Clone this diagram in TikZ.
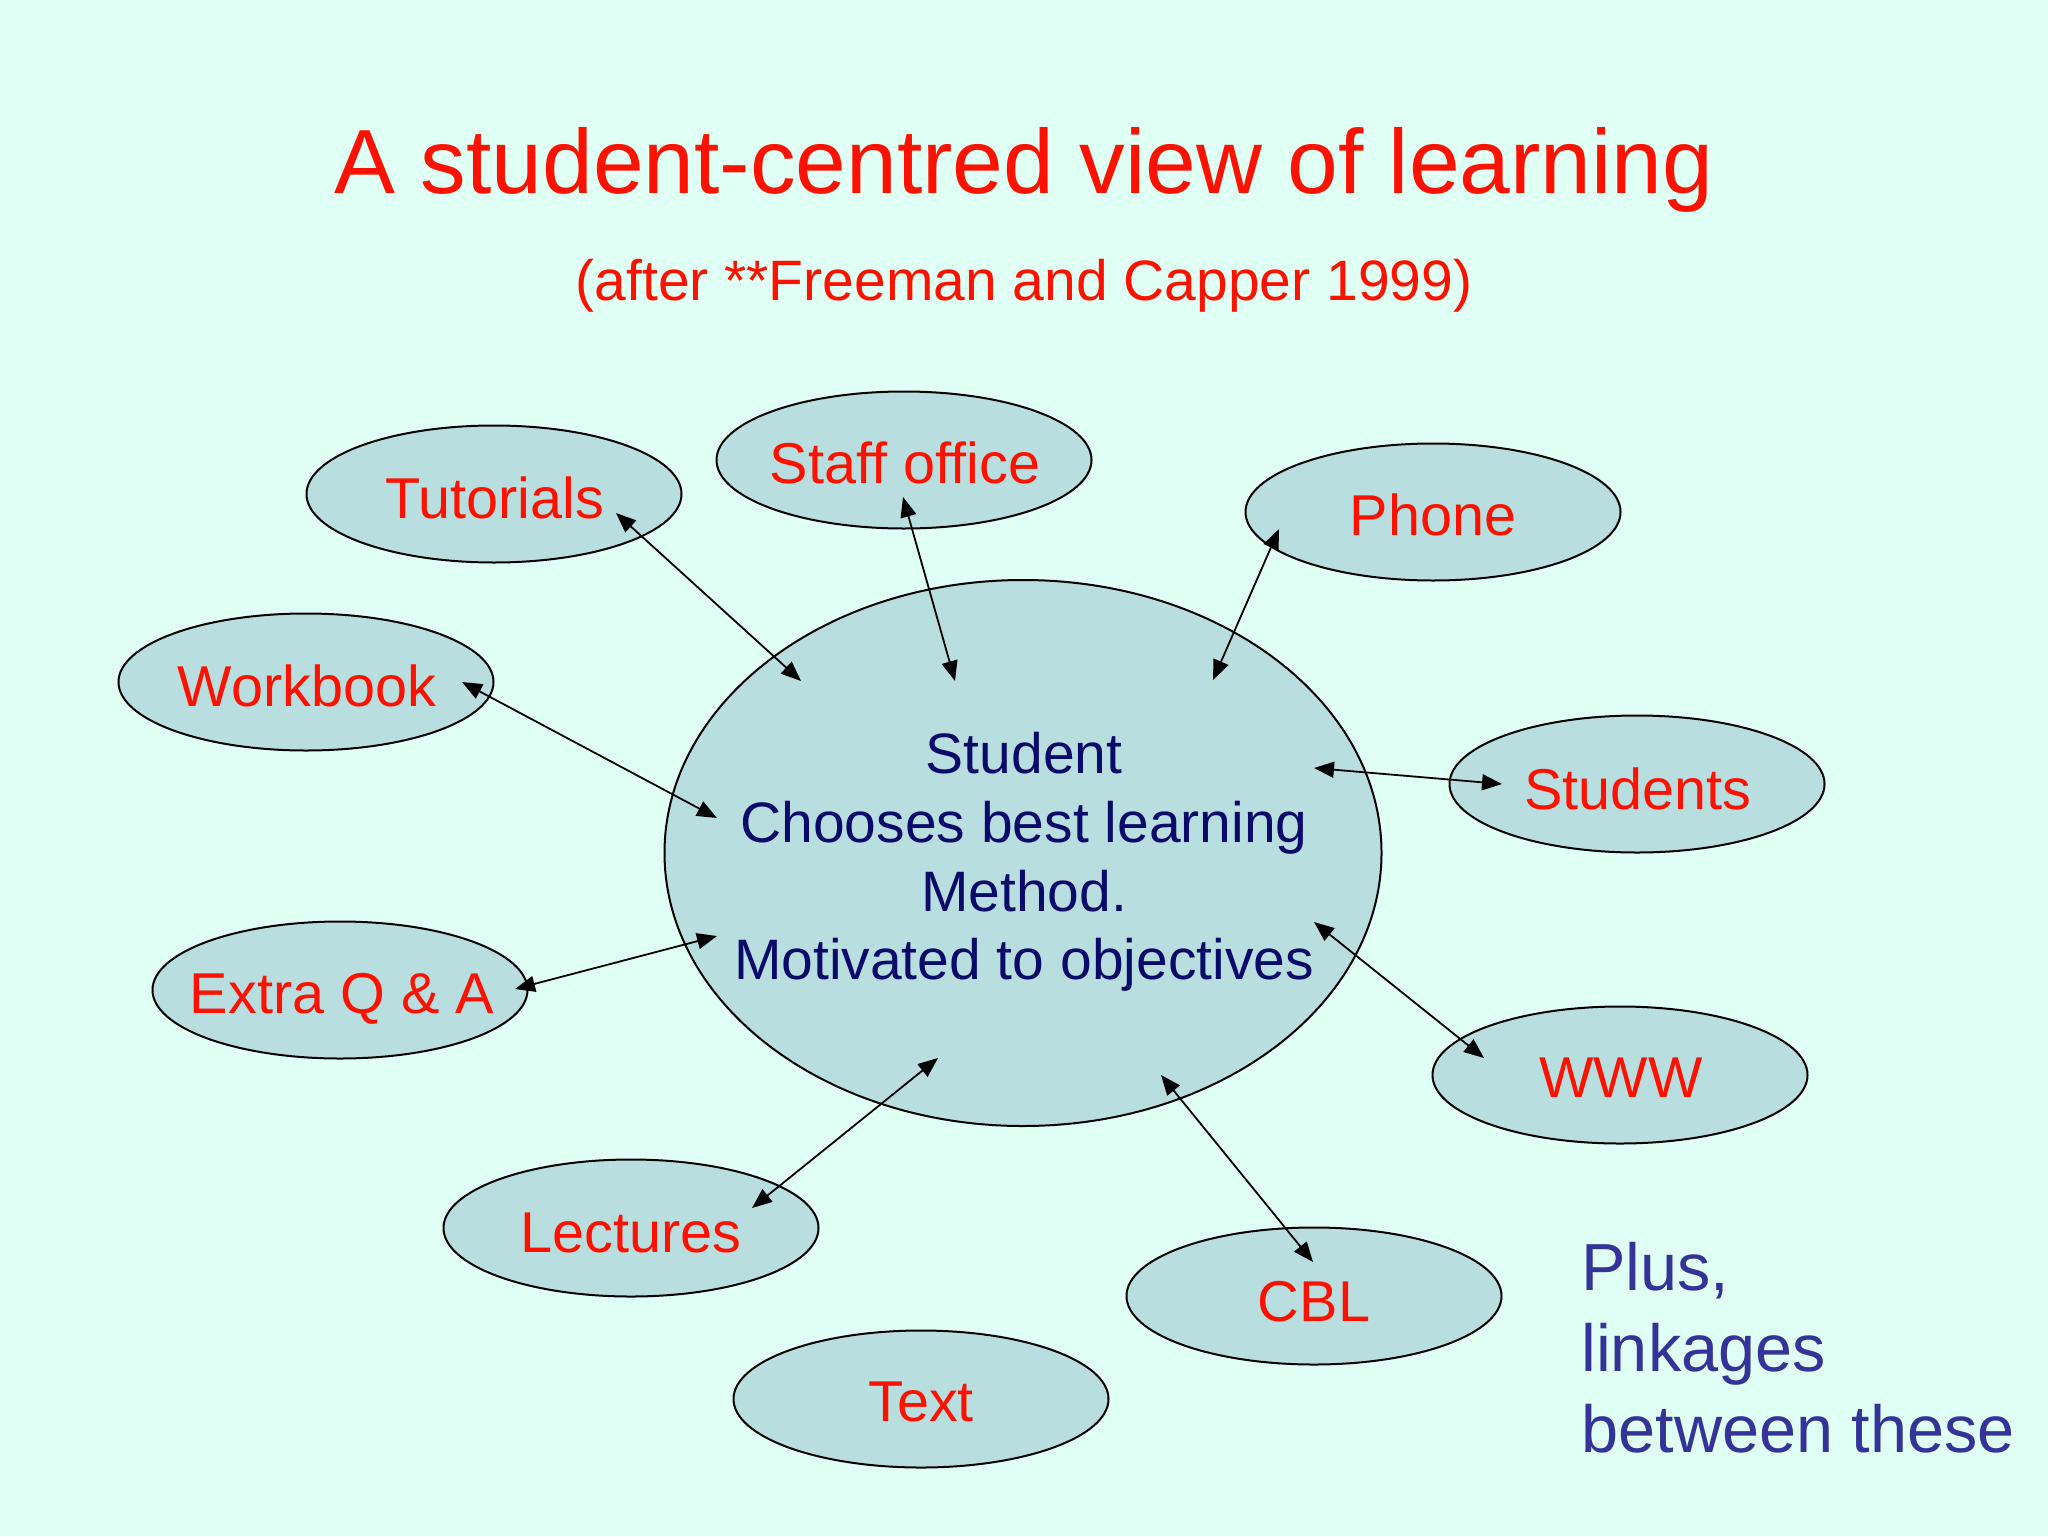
\documentclass[tikz,border=0pt]{standalone}
\usepackage{fontspec}
\setmainfont{Liberation Sans}
\usetikzlibrary{arrows.meta,shapes.geometric}
\definecolor{bg}{HTML}{E0FFF5}
\definecolor{bubfill}{HTML}{B9DEE0}
\definecolor{labred}{HTML}{FF1100}
\definecolor{navy}{HTML}{0A0A6A}
\definecolor{plusblue}{HTML}{333399}
\begin{document}
\begin{tikzpicture}[x=0.5pt,y=-0.5pt,
  bub/.style={ellipse, draw=black, line width=1pt, fill=bubfill, minimum width=187.5pt, minimum height=68.5pt, inner sep=0pt},
  lab/.style={text=labred, font=\fontsize{28.8}{34}\selectfont, anchor=base, inner sep=0pt},
  link/.style={{Triangle[length=10pt,width=8pt]}-{Triangle[length=10pt,width=8pt]}, line width=0.9pt}]
\fill[bg] (0,0) rectangle (2048,1536);
\useasboundingbox (0,0) rectangle (2048,1536);

% titles
\node[text=labred, font=\fontsize{45.6}{54}\selectfont, anchor=base, inner sep=0pt] (title) at (1024,193) {A student-centred view of learning};
\node[text=labred, font=\fontsize{28.5}{34}\selectfont, anchor=base, inner sep=0pt] (sub) at (1024,300) {(after **Freeman and Capper 1999)};

% central ellipse
\node[ellipse, draw=black, line width=1pt, fill=bubfill, minimum width=358.5pt, minimum height=273pt, inner sep=0pt] (stu) at (1023,853) {};
\node[text=navy, font=\fontsize{28.5}{34.3}\selectfont, align=center, inner sep=0pt] (stutext) at (1024,862)
  {Student\\Chooses best learning\\Method.\\Motivated to objectives};

% satellites
\node[bub] (tut) at (494,494) {};
\node[lab] (tutl) at (495,518) {Tutorials};
\node[bub] (staff) at (904,460) {};
\node[lab] (staffl) at (905,483) {Staff office};
\node[bub] (phone) at (1433,512) {};
\node[lab] (phonel) at (1433,535) {Phone};
\node[bub] (work) at (306,682) {};
\node[lab] (workl) at (307,706) {Workbook};
\node[bub] (stus) at (1637,784) {};
\node[lab] (stusl) at (1638,809) {Students};
\node[bub] (extra) at (340,990) {};
\node[lab] (extral) at (342,1013) {Extra Q \& A};
\node[bub] (www) at (1620,1075) {};
\node[lab] (wwwl) at (1621,1097) {WWW};
\node[bub] (lect) at (631,1228) {};
\node[lab] (lectl) at (631,1252) {Lectures};
\node[bub] (cbl) at (1314,1296) {};
\node[lab] (cbll) at (1314,1321) {CBL};
\node[bub] (text) at (921,1399) {};
\node[lab] (textl) at (921,1421) {Text};

% plus note
\node[text=plusblue, font=\fontsize{33.3}{40.5}\selectfont, align=left, anchor=west, inner sep=0pt] (plus) at (1581,1348)
  {Plus,\\linkages\\between these};

% connector end points
\coordinate (tutA) at (616,513);   \coordinate (tutB) at (801,681);
\coordinate (staffA) at (903,497); \coordinate (staffB) at (955,681);
\coordinate (phoneA) at (1279,529);\coordinate (phoneB) at (1213,680);
\coordinate (workA) at (462,682);  \coordinate (workB) at (717,818);
\coordinate (stusA) at (1502,784); \coordinate (stusB) at (1314,768);
\coordinate (extraA) at (515,989); \coordinate (extraB) at (717,936);
\coordinate (wwwA) at (1484,1058); \coordinate (wwwB) at (1314,922);
\coordinate (lectA) at (752,1208); \coordinate (lectB) at (938,1058);
\coordinate (cblA) at (1313,1262); \coordinate (cblB) at (1161,1075);

\draw[link] (tutA) -- (tutB);
\draw[link] (staffA) -- (staffB);
\draw[link] (phoneA) -- (phoneB);
\draw[link] (workA) -- (workB);
\draw[link] (stusA) -- (stusB);
\draw[link] (extraA) -- (extraB);
\draw[link] (wwwA) -- (wwwB);
\draw[link] (lectA) -- (lectB);
\draw[link] (cblA) -- (cblB);
\end{tikzpicture}
\end{document}
